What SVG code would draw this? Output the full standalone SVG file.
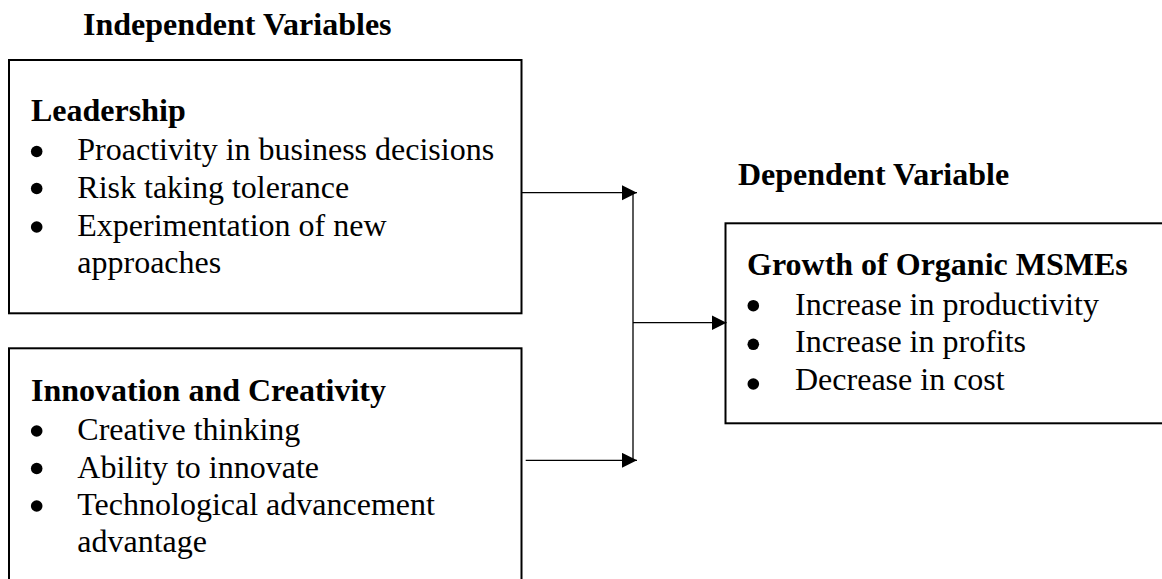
<svg xmlns="http://www.w3.org/2000/svg" width="1162" height="579" viewBox="0 0 1162 579">
  <style>
    .box { fill: none; stroke: #000; stroke-width: 2; }
    .hd { font-family: "Liberation Serif", "Times New Roman", serif; font-size: 32px; font-weight: bold; fill: #000; }
    .tx { font-family: "Liberation Serif", "Times New Roman", serif; font-size: 32px; fill: #000; }
    .dot { fill: #000; }
    .conn { fill: none; stroke: #000; stroke-width: 1.3; }
  </style>
  <defs>
    <marker id="arrow" markerUnits="userSpaceOnUse" markerWidth="16" markerHeight="16" refX="15" refY="7.5" orient="auto">
      <path d="M0,0 L15,7.5 L0,15 z" fill="#000"/>
    </marker>
  </defs>
  <rect width="1162" height="579" fill="#fff"/>

  <!-- Section headings -->
  <text class="hd" x="83" y="35">Independent Variables</text>
  <text class="hd" x="738" y="185">Dependent Variable</text>

  <!-- Independent variable: leadership -->
  <g id="leadership">
    <rect class="box" x="9" y="60" width="512.5" height="253.3"/>
    <text class="hd" x="31" y="121">Leadership</text>
    <circle class="dot" cx="36.7" cy="151.5" r="5.8"/>
    <text class="tx" x="77.3" y="160">Proactivity in business decisions</text>
    <circle class="dot" cx="36.7" cy="188.5" r="5.8"/>
    <text class="tx" x="77.3" y="197.5">Risk taking tolerance</text>
    <circle class="dot" cx="36.7" cy="227" r="5.8"/>
    <text class="tx" x="77.3" y="236">Experimentation of new</text>
    <text class="tx" x="77.3" y="273">approaches</text>
  </g>

  <!-- Independent variable: innovation and creativity -->
  <g id="innovation">
    <rect class="box" x="9" y="348.3" width="512.5" height="250"/>
    <text class="hd" x="31" y="401">Innovation and Creativity</text>
    <circle class="dot" cx="36.7" cy="431" r="5.8"/>
    <text class="tx" x="77.3" y="440">Creative thinking</text>
    <circle class="dot" cx="36.7" cy="468.5" r="5.8"/>
    <text class="tx" x="77.3" y="477.5">Ability to innovate</text>
    <circle class="dot" cx="36.7" cy="506" r="5.8"/>
    <text class="tx" x="77.3" y="515">Technological advancement</text>
    <text class="tx" x="77.3" y="552">advantage</text>
  </g>

  <!-- Dependent variable: growth -->
  <g id="growth">
    <rect class="box" x="725.5" y="223.3" width="450" height="200"/>
    <text class="hd" x="747" y="275">Growth of Organic MSMEs</text>
    <circle class="dot" cx="753.3" cy="305.7" r="5.8"/>
    <text class="tx" x="795" y="314.5">Increase in productivity</text>
    <circle class="dot" cx="753.3" cy="344.3" r="5.8"/>
    <text class="tx" x="795" y="352">Increase in profits</text>
    <circle class="dot" cx="753.3" cy="384" r="5.8"/>
    <text class="tx" x="795" y="390">Decrease in cost</text>
  </g>

  <!-- Connectors -->
  <g id="connectors">
    <line class="conn" x1="522" y1="192.7" x2="637" y2="192.7" marker-end="url(#arrow)"/>
    <line class="conn" x1="525.7" y1="460.3" x2="637" y2="460.3" marker-end="url(#arrow)"/>
    <line class="conn" x1="633" y1="192.7" x2="633" y2="460.3"/>
    <line class="conn" x1="633" y1="322.7" x2="726.5" y2="322.7" marker-end="url(#arrow)"/>
  </g>
</svg>
